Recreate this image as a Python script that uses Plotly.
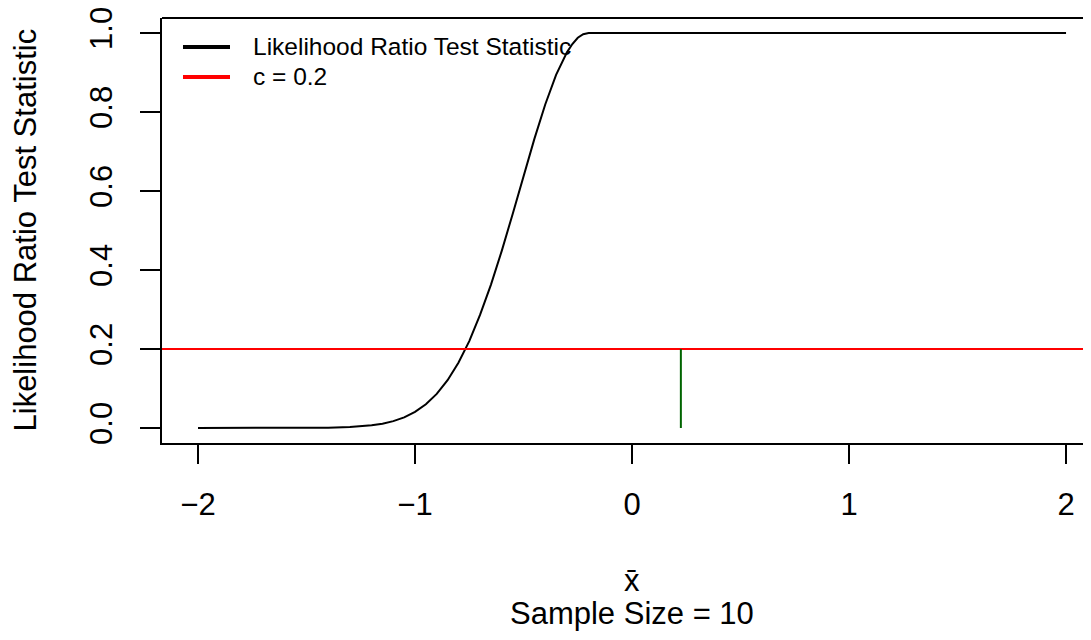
import plotly.graph_objects as go

# ---- data ----
xbar = [-2.0, -1.9, -1.8, -1.7, -1.6, -1.5, -1.4, -1.3, -1.25, -1.2, -1.15, -1.1,
        -1.05, -1.0, -0.95, -0.9, -0.85, -0.8, -0.75, -0.7, -0.65, -0.6, -0.55,
        -0.5, -0.45, -0.4, -0.35, -0.3, -0.275, -0.25, -0.225, -0.2, 0.0, 0.5,
        1.0, 1.5, 2.0]
lrt = [0.0, 0.000001, 0.000003, 0.000013, 0.000055, 0.00021, 0.00075, 0.00236,
       0.00404, 0.00674, 0.011, 0.0174, 0.027, 0.0408, 0.0601, 0.0863, 0.121,
       0.165, 0.220, 0.287, 0.363, 0.449, 0.542, 0.638, 0.732, 0.819, 0.894,
       0.951, 0.972, 0.988, 0.997, 1.0, 1.0, 1.0, 1.0, 1.0, 1.0]
c_value = 0.2
observed_xbar = 0.225
x_ticks = [-2, -1, 0, 1, 2]
x_tick_text = ["\u22122", "\u22121", "0", "1", "2"]
y_ticks = [0.0, 0.2, 0.4, 0.6, 0.8, 1.0]
y_tick_text = ["0.0", "0.2", "0.4", "0.6", "0.8", "1.0"]
x_range = [-2.166, 2.115]
y_range = [-0.038, 1.038]
legend_names = ["Likelihood Ratio Test Statistic", "c = 0.2"]
legend_colors = ["black", "#FF0000"]

FONT = "Liberation Sans, Arial, Helvetica, sans-serif"

fig = go.Figure()

# LRT curve
fig.add_trace(go.Scatter(x=xbar, y=lrt, mode="lines", line=dict(color="black", width=2),
                         name=legend_names[0], showlegend=False, hoverinfo="skip"))
# horizontal c line
fig.add_trace(go.Scatter(x=x_range, y=[c_value, c_value], mode="lines",
                         line=dict(color="#FF0000", width=2), name=legend_names[1],
                         showlegend=False, hoverinfo="skip"))
# observed xbar segment
fig.add_trace(go.Scatter(x=[observed_xbar, observed_xbar], y=[0, c_value], mode="lines",
                         line=dict(color="#006400", width=2), showlegend=False,
                         hoverinfo="skip"))

fig.update_layout(
    width=1083, height=632,
    margin=dict(l=154, r=0, t=10, b=197),
    paper_bgcolor="white", plot_bgcolor="white",
    font=dict(family=FONT, size=31, color="black"),
    showlegend=False,
    xaxis=dict(range=x_range, tickvals=x_ticks, ticktext=x_tick_text,
               showgrid=False, zeroline=False, showline=True, linecolor="black",
               linewidth=2, ticks="outside", ticklen=19, tickwidth=2, tickcolor="black",
               ticklabelstandoff=14, ticklabeloverflow="allow", tickfont=dict(size=31)),
    yaxis=dict(range=y_range, tickvals=y_ticks, ticktext=y_tick_text,
               showgrid=False, zeroline=False, showline=True, linecolor="black",
               linewidth=2, ticks="outside", ticklen=20, tickwidth=2, tickcolor="black",
               tickangle=-90, ticklabelstandoff=16, ticklabeloverflow="allow",
               tickfont=dict(size=31)),
)

# top border of the box
fig.add_shape(type="line", xref="paper", yref="paper", x0=0, x1=1, y0=1, y1=1,
              line=dict(color="black", width=2))

# legend (drawn like R's legend with bty="n")
legend_y = [0.9318, 0.8612]
for name, col, ly in zip(legend_names, legend_colors, legend_y):
    fig.add_shape(type="line", xref="paper", yref="paper", x0=0.0226, x1=0.0732,
                  y0=ly, y1=ly, line=dict(color=col, width=4))
    fig.add_annotation(text=name, xref="paper", yref="paper", x=0.0958, y=ly,
                       xanchor="left", yanchor="middle", showarrow=False,
                       font=dict(size=24.5))

# axis titles
fig.add_annotation(text="x\u0304", xref="paper", yref="paper", x=0.506, y=0,
                   xanchor="center", yanchor="top", yshift=-119, showarrow=False,
                   borderpad=0, font=dict(size=31))
fig.add_annotation(text="Sample Size = 10", xref="paper", yref="paper", x=0.506, y=0,
                   xanchor="center", yanchor="top", yshift=-152, showarrow=False,
                   borderpad=0, font=dict(size=31))
fig.add_annotation(text="Likelihood Ratio Test Statistic", xref="paper", yref="paper",
                   x=0, y=0.5, xanchor="center", yanchor="middle", xshift=-137,
                   textangle=-90, showarrow=False, borderpad=0, font=dict(size=31))

fig.write_html("out.html")
